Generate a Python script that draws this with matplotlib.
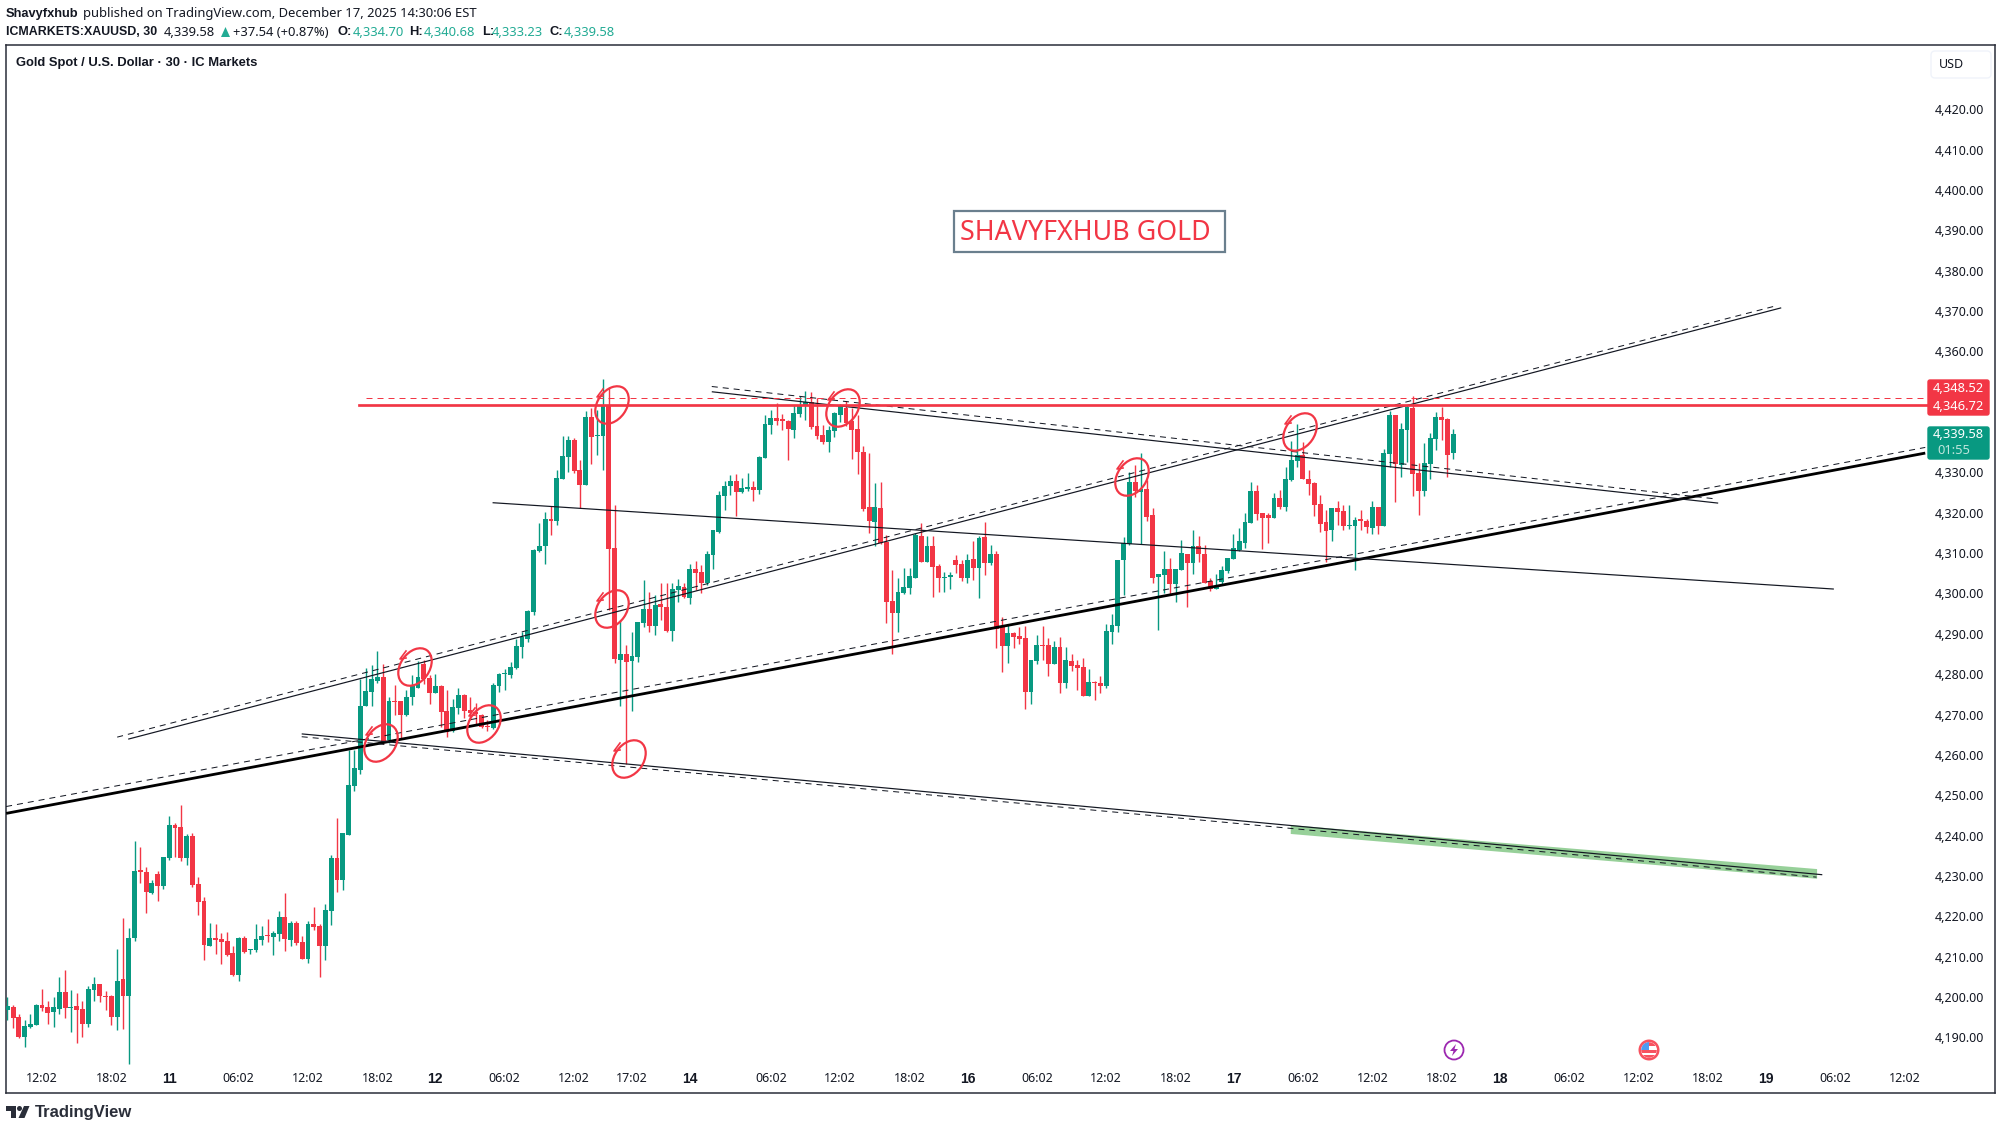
import matplotlib
matplotlib.use('Agg')
import matplotlib.pyplot as plt
from matplotlib.patches import Circle, Ellipse, FancyBboxPatch, Polygon, Rectangle

plt.rcParams['font.family'] = ['Noto Sans', 'DejaVu Sans']

# 30 minute candles
opens = [4196.7,4197.5,4195.0,4190.1,4192.5,4193.1,4198.0,4197.5,4196.3,4197.1,
4201.2,4197.2,4197.7,4197.0,4193.4,4201.7,4203.2,4200.2,4200.2,4195.0,
4204.4,4200.2,4214.6,4231.5,4231.0,4225.8,4230.5,4227.5,4234.4,4242.6,
4242.1,4234.4,4239.9,4228.0,4223.8,4212.6,4214.6,4214.4,4213.9,4210.9,
4205.4,4214.6,4211.6,4211.6,4214.1,4215.3,4214.8,4215.6,4219.8,4214.1,
4218.3,4213.6,4209.4,4218.1,4217.6,4212.6,4221.3,4234.4,4229.0,4240.1,
4252.3,4256.2,4272.1,4275.6,4278.3,4279.3,4263.7,4273.4,4273.4,4269.9,
4274.3,4276.6,4282.5,4279.1,4275.3,4277.1,4270.9,4265.9,4271.6,4274.8,
4271.1,4270.6,4269.9,4267.2,4266.7,4277.1,4280.0,4279.8,4281.5,4286.7,
4288.7,4295.4,4310.5,4311.8,4318.5,4318.0,4328.4,4333.8,4338.0,4330.6,
4326.9,4343.7,4339.0,4339.0,4346.7,4311.3,4283.5,4285.0,4283.3,4284.2,
4292.7,4296.1,4291.9,4297.4,4296.6,4290.7,4300.9,4301.6,4298.9,4306.1,
4305.3,4302.6,4309.5,4315.2,4324.2,4326.6,4327.9,4325.2,4325.9,4326.4,
4325.7,4333.6,4341.8,4343.5,4343.0,4342.8,4340.5,4344.5,4346.5,4347.5,
4341.5,4339.3,4337.5,4340.3,4344.2,4346.0,4342.8,4340.8,4335.1,4321.4,
4317.7,4321.2,4312.8,4298.1,4295.2,4300.1,4301.4,4303.8,4314.2,4307.8,
4311.8,4306.8,4303.8,4304.1,4308.3,4307.3,4303.8,4308.5,4306.3,4314.0,
4307.6,4309.8,4291.7,4287.0,4290.2,4289.5,4289.0,4275.6,4283.3,4287.2,
4287.2,4282.5,4286.7,4277.8,4283.3,4282.3,4281.8,4274.6,4278.0,4277.8,
4277.1,4290.4,4291.9,4308.3,4312.3,4327.6,4325.2,4325.9,4319.5,4304.1,
4304.6,4306.1,4302.3,4305.8,4309.8,4307.6,4311.8,4309.8,4303.1,4301.1,
4302.8,4305.6,4308.5,4310.8,4312.5,4317.5,4325.4,4319.9,4319.5,4318.7,
4323.7,4321.4,4328.1,4332.8,4334.3,4328.4,4327.4,4322.2,4317.7,4315.7,
4321.2,4320.4,4316.7,4316.7,4318.2,4318.0,4316.2,4321.4,4316.7,4334.6,
4344.2,4331.8,4340.5,4346.0,4329.9,4325.4,4332.1,4338.3,4343.7,4343.3,
4334.70]
highs = [4200.1,4198.0,4195.9,4194.3,4195.9,4198.2,4201.9,4199.0,4199.9,4204.9,
4206.7,4201.7,4200.9,4199.0,4202.7,4204.9,4203.2,4201.5,4200.5,4211.9,
4219.6,4217.1,4238.6,4237.2,4232.2,4229.0,4231.2,4234.7,4244.8,4243.1,
4247.6,4240.4,4240.6,4229.7,4224.8,4218.3,4218.1,4215.8,4216.1,4212.6,
4214.8,4215.1,4211.9,4218.1,4217.6,4219.3,4216.3,4221.3,4225.8,4218.8,
4218.8,4215.1,4218.8,4222.3,4218.1,4223.0,4235.2,4244.3,4240.6,4261.2,
4261.2,4278.7,4281.5,4282.3,4285.8,4282.5,4274.3,4277.3,4273.4,4276.1,
4279.8,4283.3,4283.5,4279.8,4280.1,4277.3,4276.1,4273.9,4276.6,4275.1,
4274.3,4272.9,4270.1,4268.6,4277.8,4280.2,4281.3,4282.9,4288.6,4290.4,
4295.9,4311.0,4317.5,4320.2,4321.7,4330.6,4339.0,4339.0,4338.5,4333.1,
4345.2,4345.9,4345.5,4353.2,4351.3,4321.9,4293.4,4287.2,4290.4,4292.9,
4303.3,4300.4,4299.6,4302.5,4302.5,4302.5,4303.6,4302.5,4307.3,4308.1,
4307.1,4310.5,4315.7,4325.4,4327.9,4329.4,4329.6,4328.6,4329.9,4327.9,
4334.1,4344.2,4345.5,4347.2,4344.5,4343.0,4346.7,4349.0,4350.2,4349.9,
4348.4,4341.8,4341.4,4345.1,4346.9,4347.8,4345.9,4344.2,4336.6,4334.7,
4327.4,4327.6,4314.5,4305.8,4303.8,4306.3,4306.3,4314.9,4317.5,4314.2,
4314.2,4307.3,4305.3,4305.3,4309.5,4308.3,4309.8,4313.0,4314.2,4317.7,
4312.0,4310.5,4294.2,4292.2,4290.4,4291.7,4291.9,4283.5,4289.7,4291.9,
4289.0,4288.2,4289.2,4286.7,4285.0,4283.5,4284.0,4281.3,4278.3,4279.5,
4292.4,4294.9,4308.3,4314.1,4330.2,4331.8,4334.8,4328.1,4321.2,4304.8,
4310.5,4308.8,4306.1,4313.3,4309.8,4315.7,4314.2,4312.0,4303.8,4304.8,
4306.8,4308.8,4314.7,4316.2,4319.9,4327.6,4326.9,4319.9,4319.9,4324.9,
4325.7,4331.4,4337.8,4342.0,4337.6,4330.6,4327.6,4324.4,4320.7,4321.2,
4322.9,4321.9,4321.9,4319.0,4320.7,4318.5,4322.9,4321.4,4335.8,4345.2,
4344.2,4342.3,4346.7,4349.0,4332.3,4337.3,4339.7,4345.0,4346.3,4343.4,
4340.68]
lows = [4194.3,4192.4,4189.9,4187.7,4192.4,4193.0,4196.5,4193.4,4192.6,4195.9,
4194.8,4191.3,4188.6,4190.1,4192.6,4199.0,4198.7,4196.7,4193.1,4191.8,
4192.0,4183.4,4213.9,4228.2,4220.8,4225.5,4223.8,4226.7,4233.9,4234.7,
4233.7,4232.7,4227.2,4220.3,4209.1,4212.6,4210.6,4208.2,4210.1,4205.2,
4203.9,4210.9,4210.6,4211.1,4212.9,4213.6,4210.4,4213.9,4211.4,4212.6,
4212.9,4209.4,4208.4,4216.6,4204.9,4209.1,4217.8,4226.0,4226.5,4240.1,
4251.0,4255.3,4272.1,4272.1,4277.7,4262.7,4262.9,4269.9,4264.1,4269.6,
4272.4,4276.6,4277.6,4272.6,4275.3,4266.9,4264.5,4265.7,4270.1,4269.1,
4268.6,4267.4,4266.7,4265.9,4266.4,4275.6,4276.2,4279.0,4281.3,4284.0,
4288.0,4294.7,4310.3,4307.3,4314.5,4317.0,4328.4,4330.1,4329.9,4321.2,
4326.9,4332.1,4334.3,4330.6,4295.9,4282.8,4272.1,4257.7,4270.9,4283.0,
4291.7,4290.4,4289.7,4293.4,4290.4,4288.2,4297.9,4298.9,4297.4,4300.9,
4300.1,4302.1,4306.1,4315.0,4320.7,4324.4,4319.2,4324.9,4325.4,4322.9,
4324.7,4333.6,4339.5,4341.8,4340.5,4333.1,4338.5,4343.8,4343.0,4340.8,
4338.3,4337.1,4335.1,4338.9,4342.5,4341.4,4333.3,4329.6,4320.4,4315.0,
4311.8,4312.3,4292.7,4285.1,4290.4,4299.9,4299.9,4303.8,4307.8,4307.8,
4299.1,4300.4,4300.4,4301.1,4305.1,4303.1,4302.6,4303.3,4298.9,4304.6,
4307.1,4286.5,4280.5,4282.8,4286.5,4287.5,4271.4,4272.6,4282.5,4283.5,
4279.5,4282.5,4275.3,4276.6,4280.8,4276.1,4274.6,4274.6,4273.6,4275.3,
4276.6,4287.5,4290.4,4299.6,4312.0,4324.0,4312.3,4318.0,4302.6,4290.9,
4300.1,4299.9,4297.9,4305.8,4296.6,4304.8,4307.8,4302.5,4300.6,4301.1,
4302.3,4305.1,4308.5,4310.5,4311.3,4317.5,4318.2,4311.0,4312.5,4318.7,
4320.9,4320.4,4327.9,4331.4,4328.4,4324.4,4319.2,4315.2,4307.8,4313.0,
4317.0,4315.7,4316.0,4305.8,4315.7,4315.0,4314.7,4314.7,4316.7,4331.4,
4322.7,4328.9,4332.6,4324.2,4319.5,4324.2,4328.4,4335.6,4338.0,4328.9,
4333.23]
closes = [4197.7,4194.8,4190.1,4192.8,4193.3,4198.0,4197.2,4196.0,4197.5,4201.2,
4197.2,4197.5,4196.7,4193.4,4202.0,4203.2,4200.2,4200.0,4195.0,4203.9,
4200.2,4214.6,4231.2,4231.0,4226.0,4228.2,4227.5,4234.7,4242.6,4242.0,
4234.4,4239.9,4227.7,4223.5,4212.9,4214.6,4214.1,4213.6,4210.4,4205.4,
4214.6,4211.1,4211.9,4214.4,4215.1,4215.1,4215.8,4219.8,4214.4,4218.3,
4213.4,4209.4,4218.1,4217.3,4212.6,4221.5,4234.4,4229.0,4240.6,4252.5,
4256.7,4272.1,4275.8,4278.8,4279.3,4263.2,4273.4,4273.1,4269.9,4274.3,
4277.1,4279.3,4278.8,4275.3,4277.1,4270.6,4265.7,4271.9,4274.8,4270.9,
4270.4,4270.1,4266.9,4266.9,4277.3,4280.0,4280.3,4281.8,4287.0,4289.2,
4295.6,4310.8,4311.8,4318.5,4318.0,4328.6,4334.1,4338.0,4330.4,4326.9,
4343.7,4338.8,4339.3,4346.5,4311.0,4283.8,4285.0,4283.0,4284.5,4292.9,
4296.1,4291.9,4297.1,4296.6,4290.7,4301.1,4301.8,4299.1,4306.1,4305.1,
4302.6,4309.8,4315.7,4324.4,4326.6,4327.9,4325.2,4326.1,4326.4,4325.7,
4333.8,4342.0,4343.5,4342.8,4342.8,4340.8,4344.7,4346.7,4347.5,4341.3,
4339.0,4337.5,4340.5,4344.7,4346.5,4342.3,4340.5,4335.1,4320.9,4318.0,
4321.4,4312.5,4297.9,4295.2,4300.4,4301.6,4304.3,4314.5,4307.8,4311.8,
4306.6,4303.8,4304.1,4304.6,4307.1,4303.8,4308.3,4306.3,4313.7,4307.6,
4309.8,4291.2,4287.0,4290.2,4289.2,4288.7,4275.6,4283.5,4287.2,4287.0,
4282.5,4286.7,4277.8,4283.5,4282.0,4281.5,4274.6,4278.0,4277.8,4277.1,
4290.7,4292.2,4308.3,4312.5,4327.6,4325.4,4325.9,4319.0,4303.8,4304.8,
4306.1,4302.3,4306.1,4310.0,4307.6,4311.8,4309.8,4302.6,4301.1,4301.8,
4305.8,4308.8,4311.3,4313.0,4317.7,4325.4,4319.7,4318.7,4318.7,4323.7,
4321.4,4328.4,4333.1,4334.3,4328.4,4327.1,4321.9,4317.2,4315.5,4321.2,
4320.2,4316.7,4317.0,4318.2,4318.0,4316.5,4321.4,4316.7,4334.8,4344.2,
4332.1,4340.8,4346.2,4329.6,4325.4,4332.3,4338.5,4343.7,4343.0,4334.3,
4339.58]

# 4,340 and 4,350 sit behind the price tags in the picture
price_ticks = [p for p in range(4190, 4430, 10) if p not in (4340, 4350)]
time_ticks = [6, 18, 28, 40, 52, 64, 74, 86, 98, 108, 118, 132, 144, 156, 166, 178, 190, 202,
              212, 224, 236, 248, 258, 270, 282, 294, 304, 316, 328]
time_labels = ['12:02', '18:02', '11', '06:02', '12:02', '18:02', '12', '06:02', '12:02', '17:02',
               '14', '06:02', '12:02', '18:02', '16', '06:02', '12:02', '18:02', '17', '06:02',
               '12:02', '18:02', '18', '06:02', '12:02', '18:02', '19', '06:02', '12:02']

# drawings: (bar, price) at each end
main_line = [(-0.2, 4245.5), (331.6, 4334.8)]
main_line_dash = [(-0.2, 4247.2), (331.6, 4336.2)]
channel_line = [(20.9, 4263.9), (306.7, 4370.8)]
channel_dash = [(19.0, 4264.4), (305.8, 4371.3)]
mid_line = [(83.9, 4322.5), (315.8, 4301.1)]
upper_line = [(121.8, 4350.0), (295.8, 4322.4)]
upper_dash = [(121.8, 4351.3), (295.0, 4323.5)]
lower_line = [(50.9, 4265.2), (313.8, 4230.3)]
lower_dash = [(50.9, 4264.5), (312.8, 4229.7)]
green_band = [(221.9, 4242.6), (312.9, 4231.7), (312.9, 4229.3), (221.9, 4240.4)]
resistance = 4346.72
resistance_dash = 4348.52

RED = '#F23645'
GREEN = '#089981'
INK = '#131722'
DASH = (0, (6, 5))
BOLD_FONT = 'Liberation Sans'

fig = plt.figure(figsize=(20.02, 11.31), dpi=100)
ax = fig.add_axes([6 / 2002, 1 - 1093 / 1131, (1995 - 6) / 2002, (1093 - 45) / 1131])
ax.set_xlim(-0.225, 343.66)
ax.set_ylim(4176.2, 4435.94)

bars = range(len(opens))
colors = [GREEN if c >= o else RED for o, c in zip(opens, closes)]
ax.vlines(bars, lows, highs, colors=colors, linewidth=1.0, zorder=2)
ax.bar(bars, [max(abs(c - o), 0.35) for o, c in zip(opens, closes)],
       bottom=[min(o, c) for o, c in zip(opens, closes)],
       width=0.84, color=colors, linewidth=0, zorder=3)

ax.add_patch(Polygon(green_band, closed=True, facecolor='#4CAF50', alpha=0.58, edgecolor='none', zorder=4))


def draw(pts, lw=1.0, ls='-', color=INK):
    ax.plot([p[0] for p in pts], [p[1] for p in pts], color=color, lw=lw * 0.72, ls=ls,
            zorder=5, solid_capstyle='butt')


draw(main_line, lw=2.8, color='#000000')
draw(main_line_dash, ls=DASH)
draw(channel_line, lw=1.2)
draw(channel_dash, ls=DASH)
draw(mid_line, lw=1.2)
draw(upper_line, lw=1.2)
draw(upper_dash, ls=DASH)
draw(lower_line, lw=1.2)
draw(lower_dash, ls=DASH)
ax.plot([60.8, 331.9], [resistance, resistance], color=RED, lw=2.7 * 0.72, zorder=5)
ax.plot([62, 331.9], [resistance_dash, resistance_dash], color=RED, lw=0.72, ls=DASH, zorder=5)

ax.set_yticks(price_ticks)
ax.set_yticklabels([f'{p:,.2f}' for p in price_ticks])
ax.tick_params(axis='y', length=0, labelleft=False, labelright=True, pad=-43.5, labelsize=9, labelcolor=INK)
ax.set_xticks(time_ticks)
ax.set_xticklabels(time_labels, ha='center')
ax.tick_params(axis='x', length=0, pad=-15, labelsize=9, labelcolor=INK)
for lab in ax.get_xticklabels():
    if len(lab.get_text()) == 2:
        lab.set_fontfamily(BOLD_FONT)
        lab.set_fontweight('bold')
        lab.set_fontsize(10)
for s in ax.spines.values():
    s.set_color('#2a2e39')
    s.set_linewidth(1.1)

# everything that is not data goes on a pixel overlay
top = fig.add_axes([0, 0, 1, 1])
top.set_xlim(0, 2002)
top.set_ylim(1131, 0)
top.axis('off')
top.patch.set_alpha(0)


def txt(x, y, s, size=9.35, color=INK, ha='left'):
    top.text(x, y, s, fontsize=size, color=color, ha=ha, va='center')


def bold(x, y, s, size=9.3, color=INK, ha='left'):
    top.text(x, y, s, fontsize=size, fontweight='bold', family=BOLD_FONT, color=color, ha=ha, va='center')


bold(6, 14, 'Shavyfxhub')
txt(83, 14, 'published on TradingView.com, December 17, 2025 14:30:06 EST')
bold(6, 32, 'ICMARKETS:XAUUSD, 30', size=8.95)
txt(164, 32, '4,339.58')
top.add_patch(Polygon([(221, 37), (230, 37), (225.5, 27)], facecolor='#22AB94'))
txt(233, 32, '+37.54 (+0.87%)')
for x, key in zip([338, 409, 482, 550], ['O:', 'H:', 'L:', 'C:']):
    bold(x, 32, key)
for x, val in zip([353, 424, 492, 564], ['4,334.70', '4,340.68', '4,333.23', '4,339.58']):
    txt(x, 32, val, color='#22AB94')
bold(15.5, 63, 'Gold Spot / U.S. Dollar · 30 · IC Markets', size=9.35)

top.add_patch(Rectangle((954, 211), 271, 41, facecolor='white', edgecolor='#6A7F8E', lw=1.6, zorder=6))
top.text(960, 233, 'SHAVYFXHUB GOLD', fontsize=19.3, color=RED, ha='left', va='center', zorder=7)

# hand drawn circles
circles = [(612, 405), (612, 609), (629, 759), (381, 743), (415, 667), (484, 724), (843, 408), (1132, 477), (1300, 432)]
for cx, cy in circles:
    top.add_patch(Ellipse((cx, cy), 41, 29, angle=-55, fill=False, edgecolor=RED, lw=1.6))
    top.plot([cx - 9, cx - 15, cx - 9], [cy - 16, cy - 8, cy - 9], color=RED, lw=1.2)

# price tags
top.add_patch(FancyBboxPatch((1928, 380), 61, 35, boxstyle='round,pad=0,rounding_size=2', facecolor=RED, edgecolor=RED, lw=1))
txt(1958, 388, '4,348.52', color='white', ha='center', size=9.3)
txt(1958, 406, '4,346.72', color='white', ha='center', size=9.3)
top.add_patch(FancyBboxPatch((1928, 427), 61, 32, boxstyle='round,pad=0,rounding_size=2', facecolor=GREEN, edgecolor=GREEN, lw=1))
txt(1958, 435, '4,339.58', color='white', ha='center', size=9.3)
txt(1937, 450, '01:55', color='#BFE5DC', size=9.3)

top.add_patch(FancyBboxPatch((1931, 51), 60, 27, boxstyle='round,pad=0,rounding_size=4', facecolor='white', edgecolor='#F0F3FA', lw=1))
txt(1939, 64, 'USD', size=9)

# event icons on the time scale
top.add_patch(Circle((1454, 1050), 9.5, fill=False, edgecolor='#9C27B0', lw=1.3))
top.add_patch(Polygon([(1456, 1044), (1450, 1051), (1453.5, 1051), (1452, 1056), (1458, 1049), (1454.5, 1049)], facecolor='#9C27B0'))
flag = Circle((1649, 1050), 7.8, transform=top.transData)
top.add_patch(Circle((1649, 1050), 10.5, facecolor='#F7525F', edgecolor='none'))
top.add_patch(Circle((1649, 1050), 8, facecolor='white', edgecolor='none'))
for patch in [Rectangle((1641, 1042), 16, 4, facecolor='#F7525F'), Rectangle((1641, 1050), 16, 2.5, facecolor='#F7525F'),
              Rectangle((1641, 1055), 16, 4, facecolor='#F7525F'), Rectangle((1641, 1042), 8, 8, facecolor='#4D9BF0')]:
    top.add_patch(patch)
    patch.set_clip_path(flag)

# TradingView mark
top.add_patch(Polygon([(6, 1106), (16, 1106), (16, 1118), (11, 1118), (11, 1110.5), (6, 1110.5)], facecolor='#2A2E39'))
top.add_patch(Circle((19.5, 1108.5), 2.5, facecolor='#2A2E39'))
top.add_patch(Polygon([(24, 1106), (29.5, 1106), (24.5, 1118), (18.5, 1118)], facecolor='#2A2E39'))
top.text(35, 1112, 'TradingView', fontsize=12, fontweight='bold', family=BOLD_FONT, color='#2A2E39', ha='left', va='center')

fig.savefig('out.png', dpi=100, facecolor='white')
